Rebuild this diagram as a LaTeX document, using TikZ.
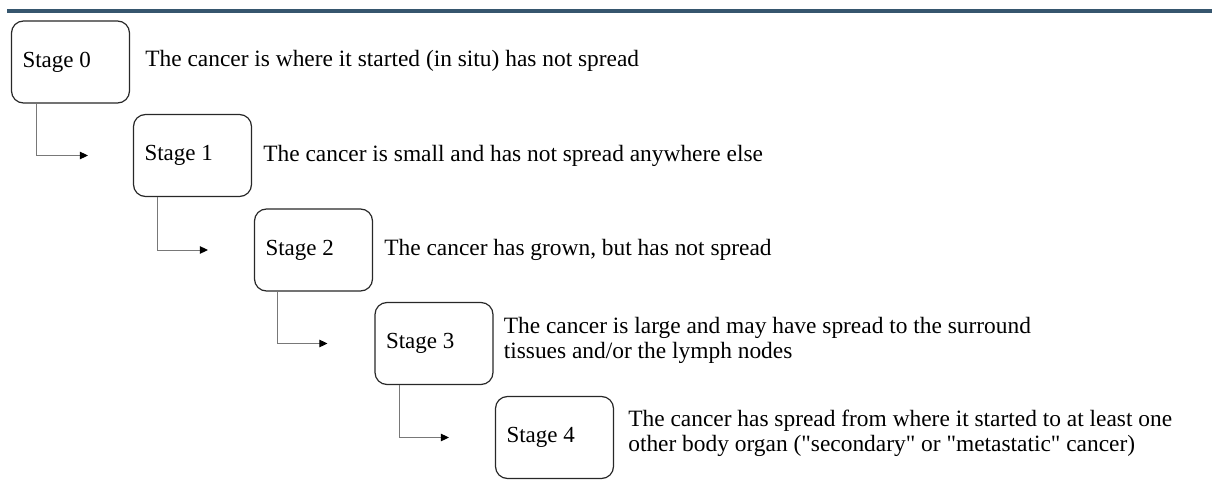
\documentclass[tikz,border=0pt]{standalone}
\usepackage{fontspec}
\setmainfont{Liberation Serif}
\usetikzlibrary{arrows.meta}
\definecolor{barblue}{RGB}{54,86,110}
\definecolor{conngray}{RGB}{120,120,120}
\definecolor{boxline}{RGB}{40,40,40}
\newcommand{\stagelbl}[1]{\makebox[96pt][l]{#1}}
\tikzset{
  stagebox/.style={draw=boxline, line width=1.2pt, rounded corners=12pt,
    minimum width=118pt, minimum height=82pt, inner xsep=11pt,
    font=\fontsize{23}{25}\selectfont},
  desc/.style={anchor=west, inner sep=0pt, align=left, font=\fontsize{23.4}{25}\selectfont},
  conn/.style={draw=conngray, line width=1pt, -{Triangle[length=8pt,width=7.5pt,color=black]}}
}
\begin{document}
\begin{tikzpicture}[x=1pt,y=-1pt]
\useasboundingbox (0,0) rectangle (1212,484);
\fill[barblue] (7,9) rectangle (1212,13);
\node[stagebox] (s0) at (70.5,62) {\stagelbl{Stage 0}};
\node[stagebox] (s1) at (192.5,155.5) {\stagelbl{Stage 1}};
\node[stagebox] (s2) at (313.5,250) {\stagelbl{Stage 2}};
\node[stagebox] (s3) at (434,343.5) {\stagelbl{Stage 3}};
\node[stagebox] (s4) at (554.5,437.5) {\stagelbl{Stage 4}};
\node[desc] (d0) at ([xshift=15pt,yshift=1pt]s0.east) {The cancer is where it started (in situ) has not spread};
\node[desc] (d1) at ([xshift=11pt]s1.east) {The cancer is small and has not spread anywhere else};
\node[desc] (d2) at ([xshift=11pt]s2.east) {The cancer has grown, but has not spread};
\node[desc] (d3) at ([xshift=10pt,yshift=3pt]s3.east) {The cancer is large and may have spread to the surround\\tissues and/or the lymph nodes};
\node[desc] (d4) at ([xshift=14pt,yshift=4pt]s4.east) {The cancer has spread from where it started to at least one\\other body organ (\textquotedbl secondary\textquotedbl{} or \textquotedbl metastatic\textquotedbl{} cancer)};
\draw[conn] ([xshift=26pt]s0.south west) |- ([xshift=-45pt]s1.west);
\draw[conn] ([xshift=25pt]s1.south west) |- ([xshift=-46pt]s2.west);
\draw[conn] ([xshift=24pt]s2.south west) |- ([xshift=-47pt]s3.west);
\draw[conn] ([xshift=25pt]s3.south west) |- ([xshift=-46pt]s4.west);
\end{tikzpicture}
\end{document}
